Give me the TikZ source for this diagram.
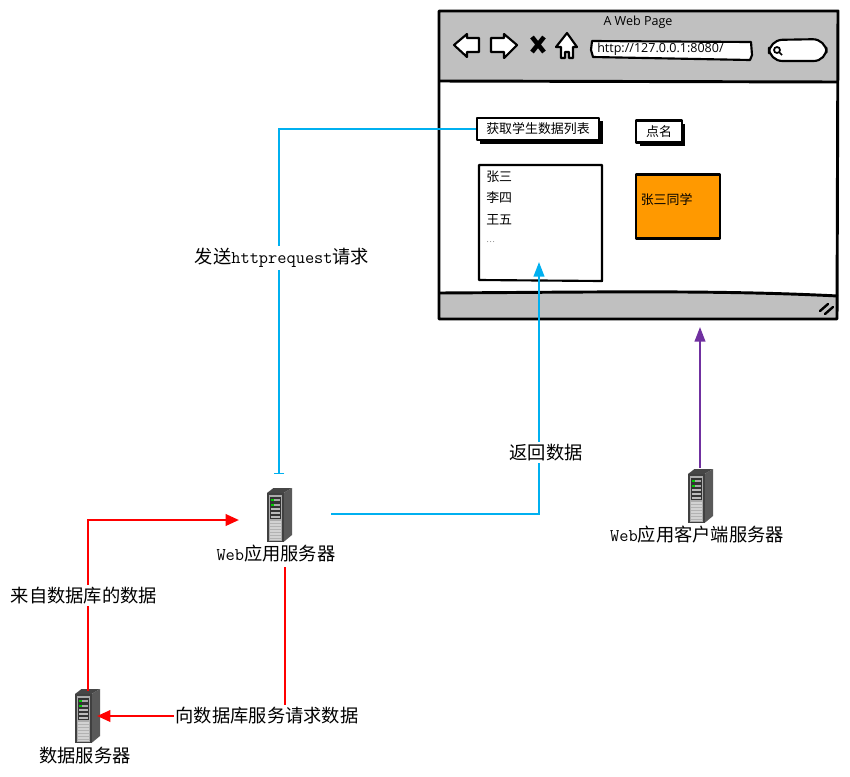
\documentclass[tikz,border=0pt]{standalone}
\usepackage{fontspec}
\usepackage{xcolor}
\usetikzlibrary{arrows.meta,positioning,shadows}
\newfontfamily\cjk{Noto Sans CJK SC}
\newfontfamily\uifont{Open Sans}
\definecolor{chromeGray}{HTML}{C0C0C0}
\definecolor{sendBlue}{HTML}{00B0F0}
\definecolor{clientPurple}{HTML}{7030A0}
\definecolor{noteOrange}{HTML}{FF9900}
\newcommand{\lat}[1]{{\ttfamily\fontsize{13.4}{15}\selectfont #1}}

\begin{document}
\begin{tikzpicture}[
  x=.75pt, y=-.75pt,
  every node/.style={align=center, font=\cjk\fontsize{13.7}{16}\selectfont},
  sketch/.style={draw=black, line width=2.2pt, line join=round},
  thinsketch/.style={draw=black, line width=1.6pt, line join=round},
  btn/.style={thinsketch, fill=white, inner sep=0pt, font=\cjk\fontsize{9.7}{12}\selectfont,
    drop shadow={shadow xshift=2.4pt, shadow yshift=-2.4pt, opacity=1, fill=black}},
  listline/.style={inner sep=0pt, anchor=west, font=\cjk\fontsize{9.7}{12}\selectfont},
  ui/.style={inner sep=0pt, font=\uifont\fontsize{9.4}{11}\selectfont},
  srv/.style={inner sep=0pt, minimum width=18.75pt, minimum height=40.5pt},
  lbl/.style={fill=white, inner sep=1.5pt},
  pipe/.style={-{Triangle[length=11pt,width=8pt]}, line width=1.5pt, sendBlue},
  rpipe/.style={-{Triangle[length=10pt,width=8.5pt]}, line width=1.9pt, red},
  pics/serverIcon/.style={code={
    \fill[gray!55!black] (-12.5,-22) -- (-6,-27) -- (12.5,-27) -- (4,-22) -- cycle;
    \fill[gray!70!black] (4,-22) -- (12.5,-27) -- (12.5,20) -- (4,27) -- cycle;
    \fill[black!75] (-12.5,-22) rectangle (4,27);
    \fill[gray!65] (-11,-20) rectangle (2.5,25.5);
    \fill[black!80] (-9.5,-18) rectangle (1,4);
    \foreach \yy in {-7,-3,1} \fill[gray!55] (-8.5,\yy) rectangle (0,\yy+1.6);
    \fill[gray!70] (-8.5,-16.5) rectangle (0,-14.5);
    \fill[gray!70] (-8.5,-11.5) rectangle (0,-9.5);
    \fill[green!80!black] (-8.5,-16.5) rectangle (-6,-14.5);
    \fill[green!80!black] (-8.5,-11.5) rectangle (-6,-9.5);
    \fill[gray!35] (-10,6) rectangle (1.5,25);
    \foreach \yy in {8,11,...,23} \draw[gray!60, line width=.4pt] (-10,\yy) -- (1.5,\yy);
  }},
]
  \useasboundingbox (0,0) rectangle (850,776);

  % browser window
  \fill[white] (438,10) rectangle (838,320);
  \fill[chromeGray] (438,10) -- (838,11) -- (838,81) -- (438,81) -- cycle;
  \fill[chromeGray] (439,293) .. controls (600,292) and (720,290) .. (838,296) -- (838,319) -- (439,319) -- cycle;
  \draw[sketch] (439,11) -- (838,11) -- (837,319) -- (439,319) -- cycle;
  \draw[sketch] (439,81) -- (838,82);
  \draw[sketch] (439,293) .. controls (600,292) and (720,290) .. (838,296);
  \draw[black, line width=1.8pt, line cap=round] (820,311) -- (828,304) (825,314) -- (833,307);

  \node[ui] (pageTitle) at (638,22) {A Web Page};
  % toolbar
  \draw[thinsketch, fill=white] (454,45) -- (467,34) -- (467,38) -- (479,38) -- (479,52) -- (467,52) -- (467,57) -- cycle;
  \draw[thinsketch, fill=white] (517,45) -- (504,34) -- (504,38) -- (491,38) -- (491,52) -- (504,52) -- (504,58) -- cycle;
  \draw[black, line width=3.4pt] (532,37) -- (544,52) (544,37) -- (532,52);
  \draw[thinsketch, fill=white] (556,47) -- (567,33) -- (577,47) -- (573,47) -- (573,58) -- (569,58) -- (569,52) -- (565,52) -- (565,58) -- (561,58) -- (561,47) -- cycle;
  \draw[thinsketch, fill=white] (592,41) -- (751,42) -- (752,55) -- (750,60) -- (593,57) -- (591,50) -- cycle;
  \node[ui, anchor=west] (urlText) at (597,49) {http://127.0.0.1:8080/};
  \draw[thinsketch, fill=white, rounded corners=10pt] (769,40) -- (826,39) -- (827,61) -- (769,61) -- cycle;
  \draw[black, line width=1.3pt] (777,50) circle (3) (779,52) -- (782,55);

  % page content
  \node[btn, minimum width=92pt, minimum height=17pt] (btnList) at (538,129) {获取学生数据列表};
  \node[btn, minimum width=34pt, minimum height=16.5pt] (btnCall) at (659,131.5) {点名};
  \draw[thinsketch, fill=white] (479,165) -- (602,165) -- (602,281) -- (479,280) -- cycle;
  \node[listline] (nameA) at (486,177) {张三};
  \node[listline] (nameB) at (486,198) {李四};
  \node[listline] (nameC) at (486,220) {王五};
  \node[listline, font=\cjk\fontsize{6}{7}\selectfont, text=gray] (nameD) at (486,242) {…};
  \node[thinsketch, fill=noteOrange, inner sep=0pt, minimum width=63pt, minimum height=48pt] (noteBox) at (678,206.5) {};
  \node[listline] (noteText) at (640.5,200) {张三同学};

  % servers
  \node[srv] (webSrv) at (279.5,515) {};
  \node[srv] (dataSrv) at (87.5,716) {};
  \node[srv] (clientSrv) at (700.5,496) {};
  \pic at (webSrv) {serverIcon};
  \pic at (dataSrv) {serverIcon};
  \pic at (clientSrv) {serverIcon};
  \node[inner sep=0pt] (webLabel) at (276,554) {\lat{Web}应用服务器};
  \node[inner sep=0pt] (dataLabel) at (85,756) {数据服务器};
  \node[inner sep=0pt] (clientLabel) at (697,535) {\lat{Web}应用客户端服务器};

  % free ends of the connectors
  \coordinate (sendEnd) at (279,474);
  \coordinate (backStart) at (331,514);
  \coordinate (backTip) at (539,262);
  \coordinate (clientTip) at (700,327);
  \coordinate (clientStart) at (700,468);
  \coordinate (askStart) at (285,567);
  \coordinate (askTip) at (97,716);
  \coordinate (dataStart) at (88,691);
  \coordinate (dataTip) at (239,520);

  \draw[line width=1.5pt, sendBlue, -{Bar[width=8pt,line width=.6pt]}] (btnList.west) -| (sendEnd);
  \draw[pipe] (backStart) -| (backTip);
  \draw[pipe, clientPurple] (clientStart) -- (clientTip);
  \draw[rpipe] (askStart) |- (askTip);
  \draw[rpipe] (dataStart) |- (dataTip);

  \node[lbl] (sendLabel) at (282,258) {发送\lat{httprequest}请求};
  \node[lbl] (backLabel) at (546,452.5) {返回数据};
  \node[lbl] (fromLabel) at (84,595.5) {来自数据库的数据};
  \node[lbl] (askLabel) at (267,715.5) {向数据库服务请求数据};
\end{tikzpicture}
\end{document}
